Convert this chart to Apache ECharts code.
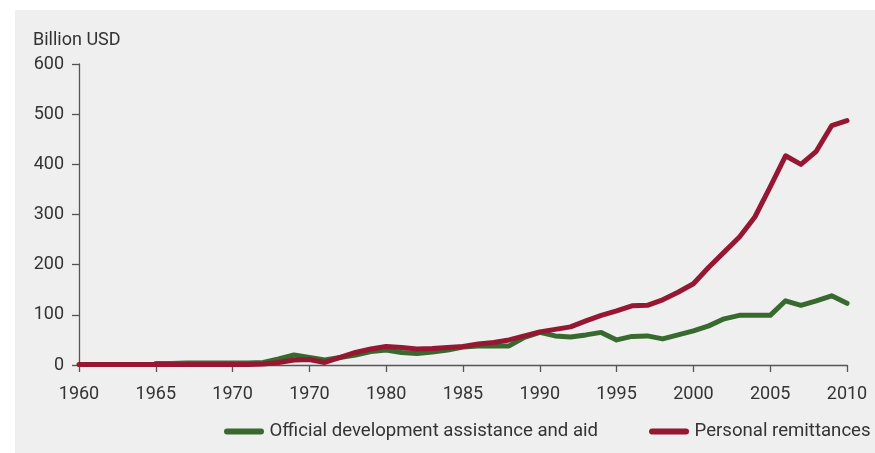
<!DOCTYPE html>
<html>
<head>
<meta charset="utf-8">
<script src="https://cdn.jsdelivr.net/npm/echarts@6/dist/echarts.min.js"></script>
<style>
html,body{margin:0;padding:0;background:#fff;}
#bg{position:absolute;left:15px;top:10px;width:860px;height:443px;background:#efefef;}
#chart{position:absolute;left:0;top:0;width:875px;height:453px;}
</style>
</head>
<body>
<div id="bg"></div>
<div id="chart"></div>
<script>
// Years 1960..2010
var years = [];
for (var y = 1960; y <= 2010; y++) years.push(String(y));

var tickLabels = ["1960","1965","1970","1970","1980","1985","1990","1995","2000","2005","2010"];

var odaAid = [
  null, null, null, null, null,          // 1960-1964
  3, 3, 4, 4, 4,                          // 1965-1969
  4, 4, 5, 12, 20,                        // 1970-1974
  15, 10, 15, 20, 27,                     // 1975-1979
  30, 25, 23, 26, 30,                     // 1980-1984
  36, 38, 38, 38, 55,                     // 1985-1989
  65, 58, 56, 60, 65,                     // 1990-1994
  50, 57, 58, 52, 60,                     // 1995-1999
  68, 78, 92, 99, 99,                     // 2000-2004
  99, 128, 119, 128, 138,                 // 2005-2009
  123                                     // 2010
];

var remittances = [
  1, 1, 1, 1, 1,                          // 1960-1964
  1, 1, 1, 1, 1,                          // 1965-1969
  1, 1, 2, 5, 10,                         // 1970-1974
  11, 5, 15, 25, 32,                      // 1975-1979
  37, 35, 32, 33, 35,                     // 1980-1984
  37, 42, 45, 50, 58,                     // 1985-1989
  66, 71, 76, 88, 99,                     // 1990-1994
  108, 118, 119, 130, 145,                // 1995-1999
  162, 195, 225, 255, 295,                // 2000-2004
  355, 417, 400, 426, 477,                // 2005-2009
  487                                     // 2010
];

var seriesNames = ["Official development assistance and aid", "Personal remittances"];
var colors = ["#386a2f", "#961731"];

var chart = echarts.init(document.getElementById('chart'), null, {renderer: 'canvas'});
var font = 'Roboto';
var lineIcon = 'path://M3,0 L37,0 A3,3 0 0 1 37,6 L3,6 A3,3 0 0 1 3,0 Z';

chart.setOption({
  animation: false,
  backgroundColor: 'transparent',
  textStyle: {fontFamily: font},
  grid: {left: 79, right: 28, top: 64, bottom: 88, containLabel: false},
  graphic: [{
    type: 'text', left: 33, top: 31,
    style: {text: 'Billion USD', font: '18px Roboto', fill: '#333'}
  }],
  legend: {
    left: 224, top: 422, padding: 0,
    itemWidth: 41, itemHeight: 6, itemGap: 51,
    icon: lineIcon,
    textStyle: {fontSize: 18.6, color: '#333', fontFamily: font},
    data: seriesNames
  },
  xAxis: {
    type: 'category',
    data: years,
    boundaryGap: false,
    axisLine: {lineStyle: {color: '#555', width: 1.3}},
    axisTick: {interval: 4, length: 7, lineStyle: {color: '#555', width: 1.3}},
    axisLabel: {
      interval: 4, margin: 20, fontSize: 18, color: '#333', fontFamily: font,
      formatter: function (v, i) { return tickLabels[Math.round(i / 5)]; }
    },
    splitLine: {show: false}
  },
  yAxis: {
    type: 'value', min: 0, max: 600, interval: 100,
    axisLine: {show: true, lineStyle: {color: '#555', width: 1.3}},
    axisTick: {show: true, length: 7, lineStyle: {color: '#555', width: 1.3}},
    axisLabel: {margin: 15, fontSize: 18, color: '#333', fontFamily: font},
    splitLine: {show: false}
  },
  series: [
    {
      name: seriesNames[0], type: 'line', data: odaAid,
      showSymbol: false, symbol: 'none', connectNulls: false,
      lineStyle: {color: colors[0], width: 5, cap: 'round', join: 'round'},
      itemStyle: {color: colors[0]}
    },
    {
      name: seriesNames[1], type: 'line', data: remittances,
      showSymbol: false, symbol: 'none',
      lineStyle: {color: colors[1], width: 5, cap: 'round', join: 'round'},
      itemStyle: {color: colors[1]}
    }
  ]
});
</script>
</body>
</html>
